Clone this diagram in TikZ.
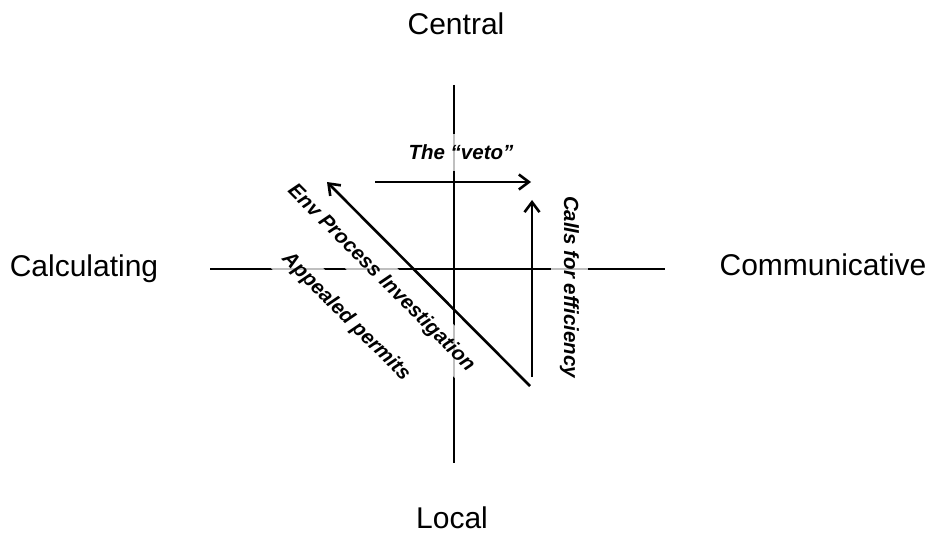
\documentclass[tikz,border=0pt]{standalone}
\usepackage{fontspec}
\setmainfont{Liberation Sans}
\usetikzlibrary{arrows.meta}
\begin{document}
\begin{tikzpicture}[x=1pt,y=-1pt,
  axisline/.style={line width=2.6pt, black},
  flow/.style={line width=2.6pt, black,
    -{Straight Barb[length=10pt,width=15pt,line width=2.6pt]}},
  pole/.style={font=\fontsize{30}{36}\selectfont, anchor=base, inner sep=0pt},
  tag/.style={font=\fontsize{20.5}{24}\selectfont\bfseries\itshape,
    fill=white, fill opacity=0.75, text opacity=1,
    inner xsep=3pt, inner ysep=0pt, minimum height=37pt}]
\useasboundingbox (0,0) rectangle (934,534);

% axes
\coordinate (top) at (454,85);
\coordinate (bottom) at (454,463);
\coordinate (left) at (210,269);
\coordinate (right) at (665,269);
\draw[axisline] (top) -- (bottom);
\draw[axisline] (left) -- (right);

% pole labels
\node[pole] (central) at (456,35) {Central};
\node[pole] (local) at (452,528) {Local};
\node[pole] (calc) at (84,277) {Calculating};
\node[pole] (comm) at (823,276) {Communicative};

% movement labels
\node[tag] (veto) at (461,152.5) {The “veto”};
\node[tag, rotate=-90] (calls) at (569.5,287) {Calls for efficiency};
\node[tag, rotate=-45] (env) at (381,278) {Env Process Investigation};
\node[tag, rotate=-45] (appeal) at (346,317) {Appealed permits};

% movements
\coordinate (vetoA) at (375,182);
\coordinate (vetoB) at (531,182);
\coordinate (callsA) at (532,377);
\coordinate (callsB) at (532,200);
\coordinate (envA) at (530,386);
\coordinate (envB) at (327,182);
\draw[flow] (vetoA) -- (vetoB);
\draw[flow] (callsA) -- (callsB);
\draw[flow] (envA) -- (envB);
\end{tikzpicture}
\end{document}
